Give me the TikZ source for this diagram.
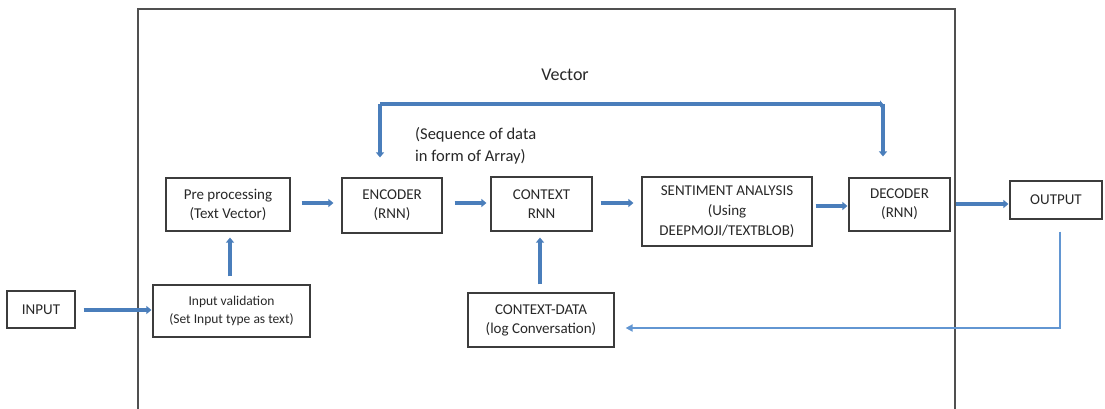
\documentclass[tikz,border=0pt]{standalone}
\usepackage{fontspec}
\setmainfont{Carlito}
\usetikzlibrary{arrows.meta,calc}
\definecolor{arrblue}{RGB}{74,126,187}
\definecolor{fbblue}{RGB}{98,150,210}
\definecolor{boxline}{RGB}{60,60,60}
\definecolor{txt}{RGB}{40,40,40}
\tikzset{
  box/.style={draw=boxline,line width=1.2pt,rectangle,inner sep=0pt,align=center,text=txt,font=\fontsize{15}{19}\selectfont},
  arr/.style={draw=arrblue,line width=3.4pt,-{Triangle[length=5pt,width=8pt]}},
  fbarr/.style={draw=fbblue,line width=2pt,-{Triangle[length=7pt,width=7pt]}},
  frame/.style={draw=boxline!90,line width=1.1pt},
  lbl/.style={text=txt,inner sep=0pt,align=left}
}
\begin{document}
\begin{tikzpicture}[x=1pt,y=-1pt]
\useasboundingbox[fill=white] (0,0) rectangle (1105,409);
% frame
\draw[frame] (138,409) -- (138,9) -- (955,9) -- (955,409);
% nodes
\node[box,minimum width=68,minimum height=37] (inp) at (41,309.5) {INPUT};
\node[box,minimum width=157,minimum height=52,font=\fontsize{13.5}{18}\selectfont] (val) at (231.5,311) {Input validation\\(Set Input type as text)};
\node[box,minimum width=124,minimum height=53] (pre) at (228,204.5) {Pre processing\\(Text Vector)};
\node[box,minimum width=100,minimum height=55] (enc) at (392,205.5) {ENCODER\\(RNN)};
\node[box,minimum width=101,minimum height=54] (ctx) at (541.5,204) {CONTEXT\\RNN};
\node[box,minimum width=170,minimum height=69,font=\fontsize{15}{20}\selectfont] (sen) at (727,211.5) {SENTIMENT ANALYSIS\\(Using\\DEEPMOJI/TEXTBLOB)};
\node[box,minimum width=101,minimum height=53] (dec) at (899.5,204.5) {DECODER\\(RNN)};
\node[box,minimum width=92,minimum height=38] (out) at (1056,200) {OUTPUT};
\node[box,minimum width=146,minimum height=54] (cd) at (541,320) {CONTEXT-DATA\\(log Conversation)};
% labels
\node[lbl,font=\fontsize{18}{20}\selectfont] (vec) at (565,75) {Vector};
\node[lbl,font=\fontsize{16.5}{22}\selectfont,anchor=west] (seq) at (415,146) {(Sequence of data\\in form of Array)};
% arrows
\coordinate (y1) at (0,310);
\coordinate (y2) at (0,203);
\coordinate (y3) at (0,206);
\coordinate (y4) at (0,204);
\draw[arr,shorten <=8pt,shorten >=1pt] (inp.east |- y1) -- (val.west |- y1);
\draw[arr,shorten <=8pt,shorten >=6pt] ($(val.north)+(-1.5,0)$) -- ($(val.north |- pre.south)+(-1.5,0)$);
\draw[arr,shorten <=11pt,shorten >=8pt] (pre.east |- y2) -- (enc.west |- y2);
\draw[arr,shorten <=12pt,shorten >=4pt] (enc.east |- y2) -- (ctx.west |- y2);
\draw[arr,shorten <=8pt,shorten >=8pt] (ctx.east |- y2) -- (sen.west |- y2);
\draw[arr,shorten <=3pt,shorten >=1pt] (sen.east |- y3) -- (dec.west |- y3);
\draw[arr,line width=4.4pt,shorten <=5pt,shorten >=1pt] (dec.east |- y4) -- (out.west |- y4);
\draw[arr,shorten <=8pt,shorten >=6pt] ($(cd.north)+(-1,0)$) -- ($(cd.north |- ctx.south)+(-1,0)$);
% vector loop
\coordinate (v1) at (380,104);
\coordinate (v2) at (883,104);
\draw[arr,-{Triangle[length=3pt,width=7pt]}] (v1) -- (v2);
\draw[arr,shorten >=20pt] (v1) -- (v1 |- enc.north);
\draw[arr,shorten >=21pt] (v2) -- (v2 |- dec.north);
% feedback
\coordinate (fb) at (1060,328);
\draw[fbarr,shorten >=11pt] ($(out.south)+(4,12)$) -- (fb) -- (cd.east |- fb);
\end{tikzpicture}
\end{document}
